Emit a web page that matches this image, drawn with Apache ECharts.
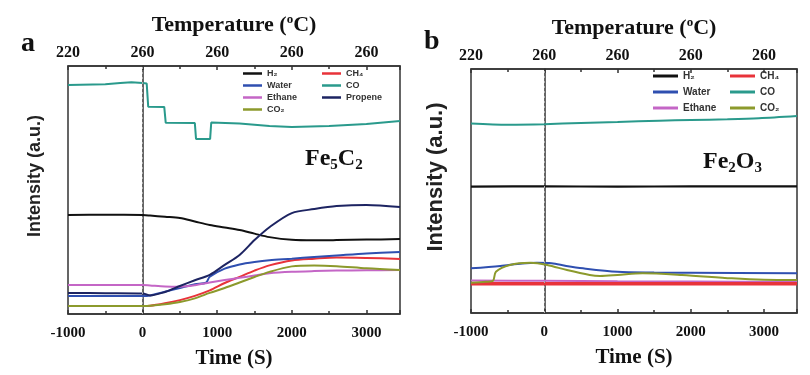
<!DOCTYPE html>
<html>
<head>
<meta charset="utf-8">
<script src="https://cdn.jsdelivr.net/npm/echarts@6/dist/echarts.min.js"></script>
<style>
html, body { margin: 0; padding: 0; background: #fff; }
#chart { width: 810px; height: 375px; }
</style>
</head>
<body>
<div id="chart"></div>
<script>
// shared axes
const timeTicks = [-1000, 0, 1000, 2000, 3000]
const tempLabels = ['220', '260', '260', '260', '260']

// panel a - Fe5C2, [time (s), intensity]
const aH2 = [[-1000, 39.9], [-500, 40.0], [0, 39.9], [100, 39.7], [300, 39.2], [500, 38.7], [700, 37.3], [900, 35.9], [1100, 34.9], [1300, 33.9], [1500, 32.4], [1700, 31.0], [2000, 29.9], [2300, 29.7], [2600, 29.8], [3000, 30.0], [3450, 30.2]]
const aCH4 = [[-1000, 3.2], [-500, 3.2], [0, 3.2], [100, 3.3], [300, 4.3], [500, 5.6], [700, 7.3], [900, 9.5], [1100, 12.5], [1300, 15.0], [1500, 17.5], [1700, 19.6], [2000, 21.6], [2300, 22.3], [2600, 22.8], [3000, 22.6], [3450, 22.2]]
const aWater = [[-1000, 7.3], [-500, 7.3], [0, 7.3], [100, 7.5], [300, 9.0], [500, 10.5], [700, 12.0], [850, 12.6], [900, 15.0], [1100, 18.3], [1300, 20.0], [1500, 21.0], [1700, 21.7], [2000, 22.3], [2300, 23.0], [2600, 23.6], [3000, 24.4], [3450, 25.0]]
const aCO = [[-1000, 92.3], [-500, 92.6], [-300, 93.1], [-150, 93.4], [0, 93.1], [55, 92.9], [75, 83.6], [290, 83.5], [310, 77.1], [700, 77.0], [716, 70.6], [905, 70.6], [920, 77.2], [1300, 76.8], [1700, 75.8], [2000, 75.4], [2500, 75.8], [3000, 76.6], [3450, 77.8]]
const aEthane = [[-1000, 11.7], [-500, 11.7], [0, 11.7], [100, 11.5], [300, 11.1], [500, 11.0], [700, 11.6], [900, 12.7], [1100, 13.7], [1300, 14.6], [1500, 15.5], [1700, 16.4], [2000, 17.0], [2300, 17.3], [2600, 17.5], [3000, 17.6], [3450, 17.7]]
const aPropene = [[-1000, 8.5], [-500, 8.4], [0, 8.3], [100, 7.5], [300, 8.9], [500, 11.3], [700, 13.6], [900, 15.8], [1100, 19.8], [1300, 23.8], [1500, 29.8], [1700, 35.0], [2000, 40.7], [2300, 42.3], [2600, 43.5], [3000, 44.0], [3450, 43.1]]
const aCO2 = [[-1000, 3.2], [-500, 3.2], [0, 3.2], [100, 3.3], [300, 3.9], [500, 4.8], [700, 6.3], [900, 8.5], [1100, 10.5], [1300, 12.7], [1500, 14.9], [1700, 17.0], [2000, 19.2], [2300, 19.6], [2600, 19.3], [3000, 18.4], [3450, 17.7]]

// panel b - Fe2O3
const bH2 = [[-1000, 51.8], [0, 51.9], [1000, 51.8], [2000, 51.9], [3450, 51.9]]
const bCH4 = [[-1000, 12.0], [0, 12.0], [1000, 12.0], [2000, 12.0], [3450, 12.0]]
const bWater = [[-1000, 18.3], [-600, 19.3], [-300, 20.3], [-100, 20.6], [100, 20.4], [300, 19.3], [530, 18.3], [1000, 16.9], [1500, 16.6], [2000, 16.5], [3450, 16.3]]
const bCO = [[-1000, 77.7], [-500, 77.2], [0, 77.4], [500, 77.9], [1000, 78.3], [1570, 78.8], [2000, 79.1], [2500, 79.4], [2930, 79.8], [3450, 80.7]]
const bEthane = [[-1000, 13.3], [0, 13.2], [1000, 13.0], [2000, 12.9], [3450, 12.8]]
const bCO2 = [[-1000, 12.4], [-800, 12.8], [-700, 13.2], [-660, 16.9], [-470, 19.7], [-190, 20.6], [40, 19.7], [310, 17.6], [620, 15.6], [760, 15.2], [1000, 15.6], [1340, 16.3], [1880, 15.6], [2560, 14.2], [3000, 13.6], [3450, 13.5]]

const colors = {
  'H₂': '#111111',
  'CH₄': '#e8333a',
  'Water': '#2f4fb0',
  'CO': '#2a9a8c',
  'Ethane': '#c466c6',
  'Propene': '#1d2462',
  'CO₂': '#8c9a2c'
}

const serif = 'Liberation Serif'
const sans = 'Liberation Sans'

const chart = echarts.init(document.getElementById('chart'))

const bottomAxis = (grid) => ({
  type: 'value',
  gridIndex: grid,
  position: 'bottom',
  min: -1000,
  max: 3450,
  interval: 1000,
  name: 'Time (S)',
  nameLocation: 'middle',
  nameGap: 34,
  nameTextStyle: { fontFamily: serif, fontWeight: 'bold', fontSize: 21, color: '#111' },
  axisLine: { show: true, lineStyle: { color: '#333', width: 1.5 } },
  axisTick: { show: true, inside: true, length: 4, lineStyle: { color: '#333', width: 1.5 } },
  minorTick: { show: true, splitNumber: 2, length: 3, lineStyle: { color: '#333', width: 1.5 } },
  axisLabel: { showMaxLabel: false, margin: 12, fontFamily: serif, fontWeight: 'bold', fontSize: 15, color: '#111', formatter: (v) => String(v) },
  splitLine: { show: false }
})

const topAxis = (grid) => ({
  type: 'value',
  gridIndex: grid,
  position: 'top',
  min: -1000,
  max: 3450,
  interval: 1000,
  name: 'Temperature ({sup|o}C)',
  nameLocation: 'middle',
  nameGap: 29,
  nameTextStyle: {
    fontFamily: serif, fontWeight: 'bold', fontSize: 22, color: '#111',
    rich: { sup: { fontFamily: serif, fontWeight: 'bold', fontSize: 13, padding: [0, 0, 11, 0], color: '#111' } }
  },
  axisLine: { show: true, lineStyle: { color: '#333', width: 1.5 } },
  axisTick: { show: true, inside: true, length: 4, lineStyle: { color: '#333', width: 1.5 } },
  minorTick: { show: true, splitNumber: 2, length: 3, lineStyle: { color: '#333', width: 1.5 } },
  axisLabel: {
    showMaxLabel: false, margin: 5, fontFamily: serif, fontWeight: 'bold', fontSize: 16, color: '#111',
    formatter: (v) => {
      const i = timeTicks.indexOf(v)
      return i >= 0 ? tempLabels[i] : ''
    }
  },
  splitLine: { show: false }
})

const yAxis = (grid, size) => ({
  type: 'value',
  gridIndex: grid,
  min: 0,
  max: 100,
  name: 'Intensity (a.u.)',
  nameLocation: 'middle',
  nameGap: 24,
  nameTextStyle: { fontFamily: sans, fontWeight: 'bold', fontSize: size, color: '#222', padding: [0, 0, 0, 28] },
  axisLine: { show: true, lineStyle: { color: '#333', width: 1.5 } },
  axisTick: { show: false },
  axisLabel: { show: false },
  splitLine: { show: false }
})

const line = (name, data, xi, yi, width, smooth) => ({
  name,
  type: 'line',
  data,
  xAxisIndex: xi,
  yAxisIndex: yi,
  color: colors[name],
  showSymbol: false,
  symbol: 'none',
  smooth: smooth === undefined ? 0.3 : smooth,
  lineStyle: { color: colors[name], width: width || 2 }
})

const zeroLine = {
  silent: true,
  symbol: 'none',
  label: { show: false },
  lineStyle: { color: '#aaa', type: [2, 3], width: 1 },
  data: [{ xAxis: 0 }]
}

const legendBase = {
  orient: 'vertical',
  icon: 'rect',
  padding: 0,
  selectedMode: false,
  textStyle: { fontFamily: sans, fontWeight: 'bold', color: '#333' }
}

const seriesA = [
  line('H₂', aH2, 0, 0),
  line('CH₄', aCH4, 0, 0),
  line('Water', aWater, 0, 0),
  line('CO', aCO, 0, 0, 2, false),
  line('Ethane', aEthane, 0, 0),
  line('Propene', aPropene, 0, 0),
  line('CO₂', aCO2, 0, 0)
]
seriesA[0].markLine = zeroLine

const seriesB = [
  line('H₂', bH2, 2, 1, 2.2),
  line('Ethane', bEthane, 2, 1),
  line('CH₄', bCH4, 2, 1, 3.5),
  line('Water', bWater, 2, 1),
  line('CO', bCO, 2, 1),
  line('CO₂', bCO2, 2, 1)
]
seriesB[0].markLine = zeroLine

const legendA = { itemWidth: 19, itemHeight: 2.5, itemGap: 3, textStyle: Object.assign({}, legendBase.textStyle, { fontSize: 9 }) }
const legendB = { itemWidth: 25, itemHeight: 3, itemGap: 6, textStyle: Object.assign({}, legendBase.textStyle, { fontSize: 10 }) }

chart.setOption({
  backgroundColor: '#fff',
  animation: false,
  grid: [
    { left: 68, top: 66, width: 332, height: 248, show: true, borderColor: '#333', borderWidth: 1.5 },
    { left: 471, top: 69, width: 326, height: 244, show: true, borderColor: '#333', borderWidth: 1.5 }
  ],
  xAxis: [bottomAxis(0), topAxis(0), bottomAxis(1), topAxis(1)],
  yAxis: [yAxis(0, 18), yAxis(1, 22)],
  legend: [
    Object.assign({}, legendBase, legendA, { left: 243, top: 69, data: ['H₂', 'Water', 'Ethane', 'CO₂'] }),
    Object.assign({}, legendBase, legendA, { left: 322, top: 69, data: ['CH₄', 'CO', 'Propene'] }),
    Object.assign({}, legendBase, legendB, { left: 653, top: 71, data: ['H₂', 'Water', 'Ethane'] }),
    Object.assign({}, legendBase, legendB, { left: 730, top: 71, data: ['CH₄', 'CO', 'CO₂'] })
  ],
  graphic: [
    { type: 'text', left: 21, top: 30, style: { text: 'a', fontFamily: serif, fontWeight: 'bold', fontSize: 28, fill: '#111' } },
    { type: 'text', left: 424, top: 28, style: { text: 'b', fontFamily: serif, fontWeight: 'bold', fontSize: 28, fill: '#111' } },
    {
      type: 'text', left: 305, top: 147,
      style: {
        text: 'Fe{s|5}C{s|2}', fontFamily: serif, fontWeight: 'bold', fontSize: 24, fill: '#111',
        rich: { s: { fontFamily: serif, fontWeight: 'bold', fontSize: 15, padding: [12, 0, 0, 0], fill: '#111' } }
      }
    },
    {
      type: 'text', left: 703, top: 150,
      style: {
        text: 'Fe{s|2}O{s|3}', fontFamily: serif, fontWeight: 'bold', fontSize: 24, fill: '#111',
        rich: { s: { fontFamily: serif, fontWeight: 'bold', fontSize: 15, padding: [12, 0, 0, 0], fill: '#111' } }
      }
    }
  ],
  series: seriesA.concat(seriesB)
})
</script>
</body>
</html>
